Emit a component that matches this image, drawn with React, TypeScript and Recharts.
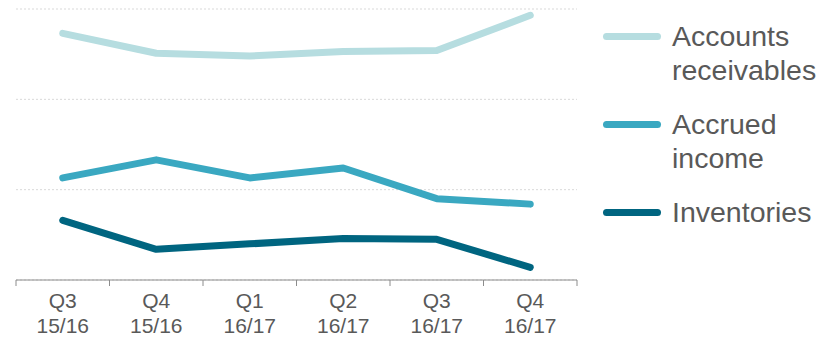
import { LineChart, Line, XAxis, YAxis, CartesianGrid, Legend } from "recharts";

const categories = ["Q3 15/16", "Q4 15/16", "Q1 16/17", "Q2 16/17", "Q3 16/17", "Q4 16/17"];
const accountsReceivables = [2.73, 2.51, 2.48, 2.53, 2.54, 2.93];
const accruedIncome = [1.13, 1.33, 1.13, 1.24, 0.9, 0.84];
const inventories = [0.66, 0.34, 0.4, 0.46, 0.45, 0.14];
const yTicks = [0, 1, 2, 3];

const seriesNames = ["Accounts\nreceivables", "Accrued\nincome", "Inventories"];
const colors = ["#b6dde0", "#3aa8c1", "#006580"];

// points sit in the middle of each quarter band; tick lines mark the band edges
const data = categories.map((c, i) => ({
  x: i + 0.5,
  label: c,
  ar: accountsReceivables[i],
  ai: accruedIncome[i],
  inv: inventories[i],
}));
const xTicks = [...categories.map((_, i) => i), categories.length, ...categories.map((_, i) => i + 0.5)];

const TEXT = "#595959";
const FONT = "'Liberation Sans', Arial, sans-serif";

function QuarterTick(props: any) {
  const { x, y, payload } = props;
  const v = payload.value as number;
  if (Number.isInteger(v)) {
    return <line x1={x} x2={x} y1={y} y2={y + 6} stroke="#8c8c8c" strokeWidth={1} />;
  }
  const [q, yr] = categories[Math.floor(v)].split(" ");
  return (
    <text x={x} y={y + 28} textAnchor="middle" fill={TEXT} fontSize={21} fontFamily={FONT}>
      <tspan x={x}>{q}</tspan>
      <tspan x={x} dy={25}>{yr}</tspan>
    </text>
  );
}

function SideLegend({ payload }: any) {
  return (
    <div style={{ fontFamily: FONT, fontSize: 28.5, lineHeight: "33.5px", color: TEXT }}>
      {(payload || []).map((p: any, i: number) => (
        <div key={i} style={{ display: "flex", alignItems: "flex-start", marginBottom: 21 }}>
          <div
            style={{
              width: 58,
              height: 7,
              borderRadius: 4,
              background: p.color,
              marginTop: 13,
              marginRight: 11,
              flexShrink: 0,
            }}
          />
          <div style={{ whiteSpace: "pre-line" }}>{p.value}</div>
        </div>
      ))}
    </div>
  );
}

export default function App() {
  return (
    <div style={{ position: "absolute", left: 0, top: 0, width: 823, height: 338, background: "#fff" }}>
      <LineChart width={823} height={338} data={data} margin={{ top: 9, right: 246, left: 16, bottom: 0 }}>
        <CartesianGrid horizontal vertical={false} stroke="#d9d9d9" strokeDasharray="2 2" />
        <XAxis
          dataKey="x"
          type="number"
          domain={[0, categories.length]}
          ticks={xTicks}
          interval={0}
          height={58}
          tickSize={0}
          tickMargin={0}
          tickLine={false}
          axisLine={{ stroke: "#8c8c8c", strokeWidth: 1 }}
          tick={<QuarterTick />}
        />
        <YAxis hide domain={[0, 3]} ticks={yTicks} />
        <Legend
          layout="vertical"
          align="center"
          verticalAlign="middle"
          wrapperStyle={{ left: 603, top: 20, width: 220 }}
          content={<SideLegend />}
        />
        <Line dataKey="ar" name={seriesNames[0]} stroke={colors[0]} strokeWidth={7} strokeLinecap="round" strokeLinejoin="round" dot={false} isAnimationActive={false} />
        <Line dataKey="ai" name={seriesNames[1]} stroke={colors[1]} strokeWidth={7} strokeLinecap="round" strokeLinejoin="round" dot={false} isAnimationActive={false} />
        <Line dataKey="inv" name={seriesNames[2]} stroke={colors[2]} strokeWidth={7} strokeLinecap="round" strokeLinejoin="round" dot={false} isAnimationActive={false} />
      </LineChart>
    </div>
  );
}
